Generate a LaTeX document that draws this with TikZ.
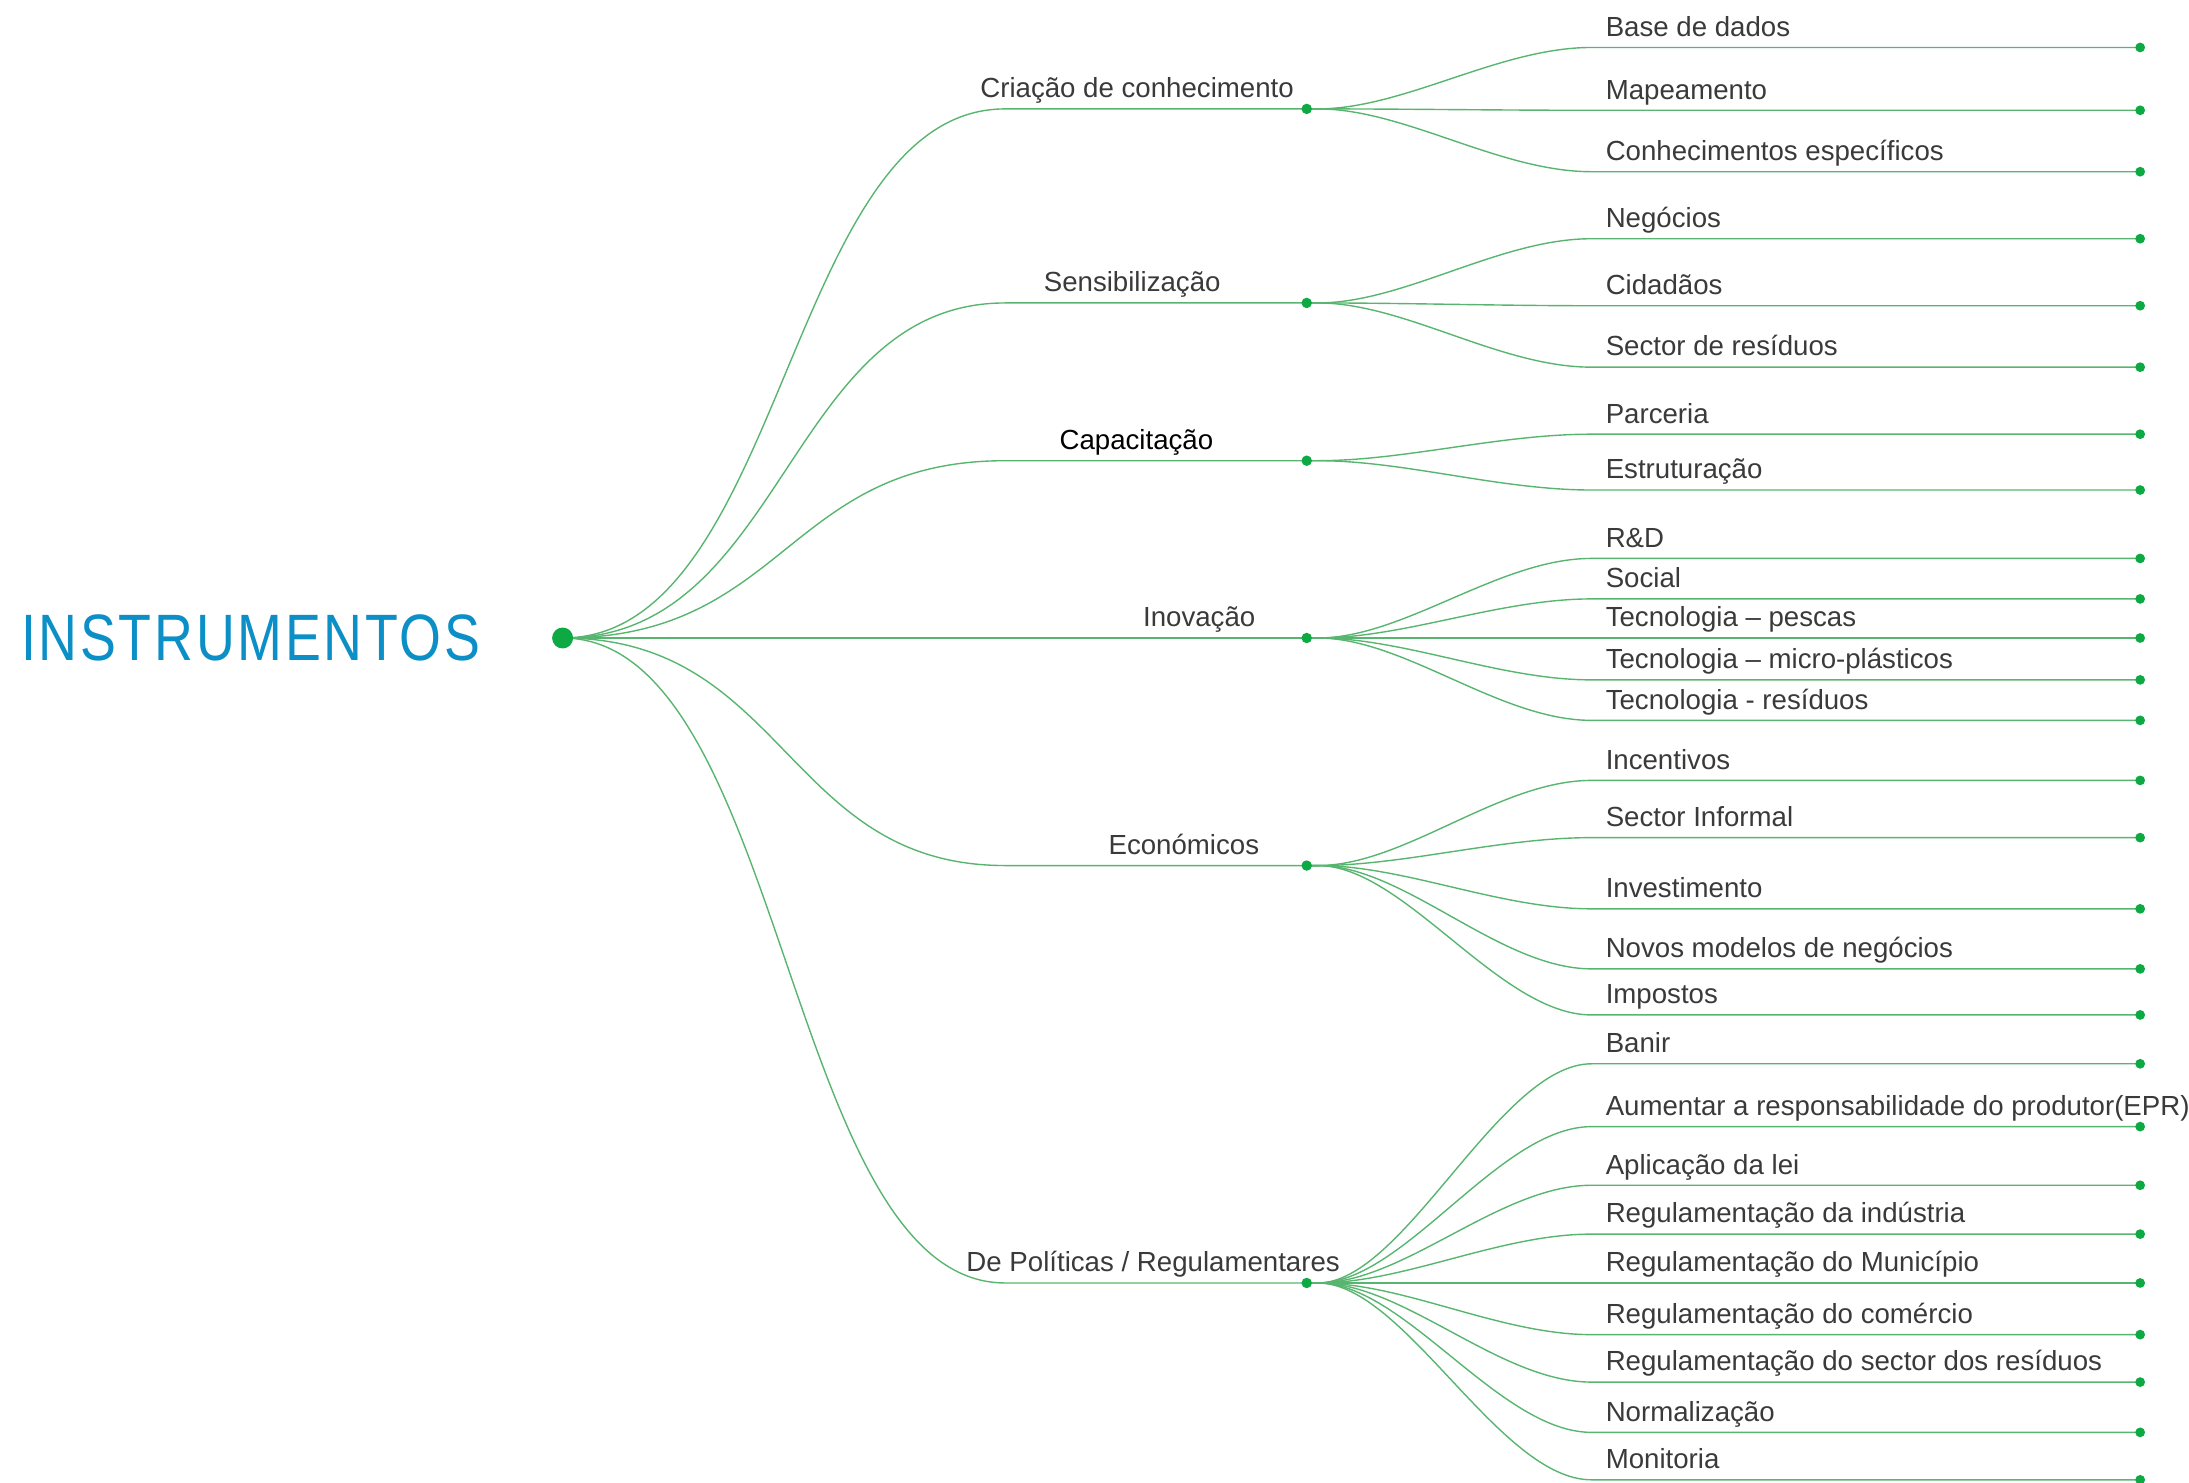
\documentclass[tikz,border=0pt]{standalone}
\usepackage{fontspec}
\setmainfont{Liberation Sans}
\newfontfamily\titlefont[LetterSpace=5]{Liberation Sans}
\usetikzlibrary{backgrounds}
\definecolor{lgreen}{HTML}{58B56F}
\definecolor{dgreen}{HTML}{0DAA44}
\definecolor{tgray}{HTML}{3A3A3A}
\definecolor{tblue}{HTML}{0B8FC6}
\begin{document}
\begin{tikzpicture}[x=1pt,y=-1pt,
  link/.style={draw=lgreen, line width=1pt},
  rootdot/.style={circle, fill=dgreen, inner sep=0pt, minimum size=15pt},
  hub/.style={circle, fill=dgreen, inner sep=0pt, minimum size=7.5pt},
  leaf/.style={circle, fill=dgreen, inner sep=0pt, minimum size=7pt},
  lbl/.style={font=\fontsize{19.8}{23}\selectfont, text=tgray, inner sep=0pt},
]
\useasboundingbox (0,0) rectangle (1568,1062);
\node[anchor=base west, inner sep=0pt, text=tblue] (title) at (15,473)
  {\scalebox{0.82}[1]{\titlefont\fontsize{47}{52}\selectfont INSTRUMENTOS}};
\node[rootdot] (root) at (403,457) {};
% level 1
\foreach \n/\y/\lx/\t/\c in {
  c1/78/814.5/Criação de conhecimento/tgray,
  c2/217/811/Sensibilização/tgray,
  c3/330/814/Capacitação/black,
  c4/457/859/Inovação/tgray,
  c5/620/848/Económicos/tgray,
  c6/919/826/{De Políticas / Regulamentares}/tgray}{
  \node[hub] (\n) at (936,\y) {};
  \coordinate (a\n) at (720,\y);
  \node[lbl, anchor=base, text=\c] (l\n) at (\lx,\y-8) {\t};
  \begin{scope}[on background layer]
    \draw[link] (root.center) .. controls +(160,0) and +(-157,0) .. (a\n) -- (\n.center);
  \end{scope}
}
% level 2
\foreach \p/\y/\t [count=\i] in {
  c1/34/Base de dados,
  c1/79/Mapeamento,
  c1/123/Conhecimentos específicos,
  c2/171/Negócios,
  c2/219/Cidadãos,
  c2/263/Sector de resíduos,
  c3/311/Parceria,
  c3/351/Estruturação,
  c4/400/R\&D,
  c4/429/Social,
  c4/457/Tecnologia – pescas,
  c4/487/Tecnologia – micro-plásticos,
  c4/516/Tecnologia - resíduos,
  c5/559/Incentivos,
  c5/600/Sector Informal,
  c5/651/Investimento,
  c5/694/Novos modelos de negócios,
  c5/727/Impostos,
  c6/762/Banir,
  c6/807/Aumentar a responsabilidade do produtor(EPR),
  c6/849/Aplicação da lei,
  c6/884/Regulamentação da indústria,
  c6/919/Regulamentação do Município,
  c6/956/Regulamentação do comércio,
  c6/990/Regulamentação do sector dos resíduos,
  c6/1026/Normalização,
  c6/1060/Monitoria}{
  \coordinate (b\i) at (1140,\y);
  \node[leaf] (e\i) at (1533,\y) {};
  \node[lbl, anchor=base west] (t\i) at (1150,\y-8) {\t};
  \begin{scope}[on background layer]
    \draw[link] (\p.center) -- ++(8,0) .. controls +(62,0) and +(-66,0) .. (b\i) -- (e\i.center);
  \end{scope}
}
\end{tikzpicture}
\end{document}
